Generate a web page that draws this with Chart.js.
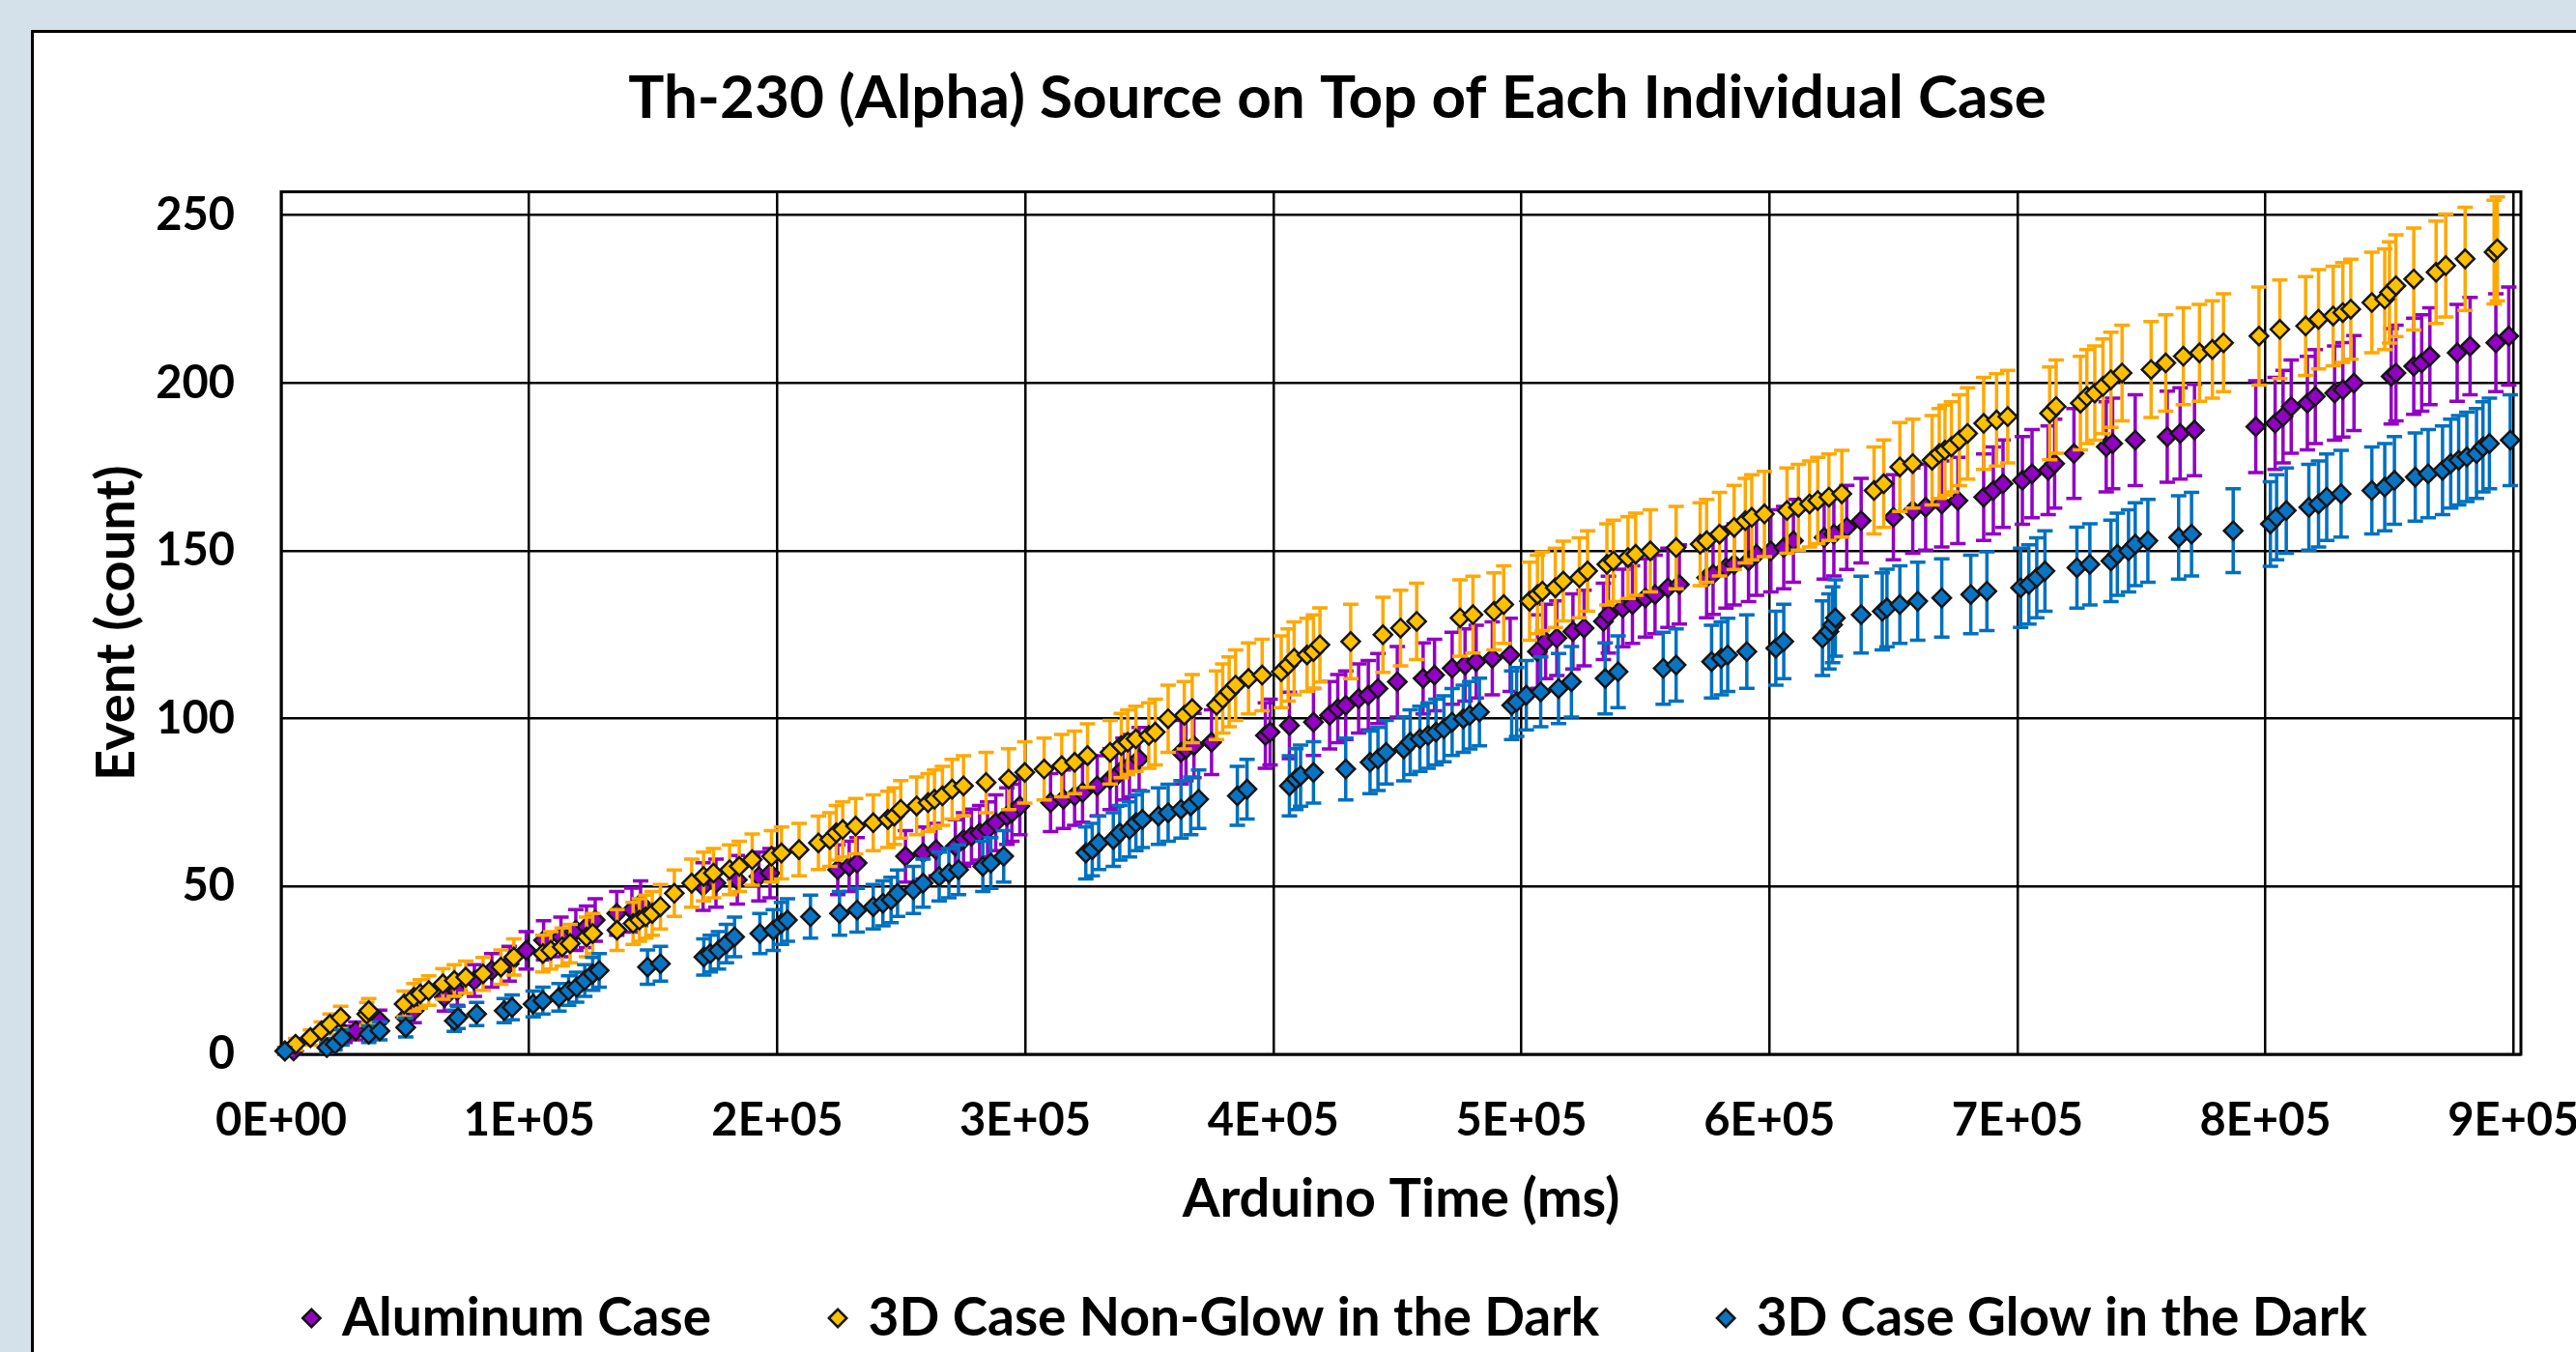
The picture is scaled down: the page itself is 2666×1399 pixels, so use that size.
<!DOCTYPE html>
<html>
<head>
<meta charset="utf-8">
<title>Th-230 (Alpha) Source on Top of Each Individual Case</title>
<script src="https://cdn.jsdelivr.net/npm/chart.js@4.4.1/dist/chart.umd.min.js"></script>
<style>
  html, body { margin: 0; padding: 0; width: 2666px; height: 1399px; overflow: hidden; background: #d5e1ea; }
  #box { position: absolute; left: 32px; top: 31px; width: 2696px; height: 1400px; border: 3px solid #000; background: #fff; }
  canvas { display: block; }
</style>
</head>
<body>
<div id="box"><canvas id="chart" width="2696" height="1400"></canvas></div>
<script>
// [arduino time (ms), event count]
const aluminum = [
  [5000,1],[25700,6],[30100,7],[36200,9],[39700,10],[50100,11],[53600,13],[65800,17],[71000,19],[77900,22],
  [84900,25],[91900,27],[98800,31],[105800,34],[112800,35],[118800,37],[123100,38],[126600,40],[135300,42],[141400,43],
  [144900,45],[170100,50],[175300,51],[183900,52],[192600,53],[197100,54],[224400,55],[229000,56],[232200,57],[251700,59],
  [258800,60],[264000,61],[271800,62],[275100,64],[278300,65],[281600,66],[284800,67],[288100,69],[292600,71],[294600,72],
  [297800,74],[310200,75],[315400,76],[319900,77],[323100,78],[329000,80],[334200,82],[336800,83],[339400,85],[342000,86],
  [345900,88],[362800,90],[364800,91],[368000,92],[375100,93],[396800,95],[398700,96],[406500,98],[416200,99],[422700,101],
  [426000,103],[429200,104],[434400,106],[438300,107],[442200,109],[450000,111],[460400,112],[465000,113],[472100,115],[477300,116],
  [481800,117],[488300,118],[495500,119],[506500,120],[509800,123],[514300,124],[520800,126],[525300,127],[533100,129],[535100,131],
  [540900,133],[544800,134],[550000,136],[553900,137],[559100,139],[563700,140],[574700,142],[577300,143],[582500,145],[585800,146],
  [591600,147],[594800,149],[600600,150],[605800,151],[609700,153],[622100,154],[626000,155],[631200,157],[637000,159],[650000,160],
  [657800,162],[663000,163],[669500,164],[676000,165],[686400,166],[690300,168],[694200,170],[702000,171],[705900,173],[712400,174],
  [715000,176],[722800,179],[735800,181],[738400,182],[747500,183],[760400,184],[765600,185],[771400,186],[796100,187],[803900,188],
  [807100,190],[810400,193],[816900,194],[820100,196],[827900,197],[831200,198],[835700,200],[850700,202],[852600,203],[859800,205],
  [863000,206],[866300,208],[877300,209],[882500,211],[892900,212],[898100,214]
];

const nonGlow = [
  [1500,1],[5800,3],[11800,5],[16200,7],[19700,9],[24000,11],[34500,12],[35300,13],[49600,15],[53500,17],
  [56100,18],[59500,19],[65200,21],[69800,22],[74400,23],[81400,24],[88600,26],[93800,29],[105500,30],[108700,31],
  [113300,32],[116500,33],[123100,35],[125600,36],[135400,37],[141900,39],[144400,40],[147000,41],[149600,42],[152900,44],
  [158500,48],[165500,51],[170300,53],[174300,54],[180800,55],[184700,56],[189900,58],[197700,59],[201700,60],[208800,61],
  [216600,63],[221200,64],[223800,66],[226400,67],[231600,68],[238700,69],[244600,70],[247200,71],[249800,73],[256200,74],
  [260800,75],[263400,76],[266600,77],[270500,79],[275100,80],[284200,81],[293300,82],[299800,84],[307600,85],[314700,86],
  [319900,87],[325100,89],[334200,90],[338700,92],[341300,93],[344600,94],[349800,95],[352400,96],[357600,100],[364100,101],
  [367300,103],[377100,104],[379600,106],[382200,108],[384800,110],[390000,112],[395500,113],[403200,114],[406000,116],[408400,118],
  [413600,119],[416200,120],[418800,122],[431200,123],[444200,125],[451300,127],[457800,129],[475300,130],[480500,131],[489000,132],
  [492900,134],[503300,135],[506500,137],[508500,138],[513700,139],[516900,141],[523400,142],[526700,144],[534500,146],[537100,147],
  [543000,148],[546100,149],[552000,150],[562400,151],[572100,152],[574700,153],[579900,155],[585800,157],[590300,159],[592900,160],
  [598000,161],[607100,162],[611700,163],[616200,164],[619500,165],[624000,166],[629200,167],[642200,168],[646100,170],[652600,175],
  [657800,176],[665600,177],[668500,179],[670800,180],[673400,181],[676600,183],[679900,185],[686400,188],[691600,189],[696100,190],
  [713000,191],[715600,193],[725400,194],[728000,196],[731200,197],[734500,199],[737700,201],[742200,203],[753900,204],[759800,206],
  [766900,208],[773400,209],[778600,210],[783100,212],[797400,214],[805800,216],[816200,217],[821400,219],[827300,220],[831200,221],
  [834400,222],[842900,224],[848100,225],[850000,227],[852600,229],[859800,231],[868800,233],[872700,235],[880500,237],[892200,239],
  [893500,240]
];

const glow = [
  [1500,1],[18400,2],[21700,3],[24500,5],[35300,6],[39800,7],[50200,8],[69800,10],[71300,11],[78800,12],
  [89900,13],[93100,14],[101600,15],[105500,16],[112000,17],[115900,19],[119100,20],[122400,22],[125600,24],[128200,25],
  [147700,26],[152900,27],[170400,29],[173000,30],[176300,31],[179500,33],[182800,35],[193000,36],[198400,37],[201700,39],
  [204100,40],[213400,41],[225100,42],[232200,43],[238700,44],[242600,45],[245900,46],[248500,48],[254900,49],[258800,51],
  [265300,53],[269200,54],[273100,55],[282900,56],[286100,57],[291300,59],[324400,60],[327000,61],[329600,63],[335500,64],
  [338100,66],[342000,67],[344600,69],[347200,70],[353700,71],[357600,72],[362800,73],[366700,74],[369900,76],[385500,77],
  [389400,79],[406500,80],[409100,82],[411000,83],[416200,84],[429200,85],[439000,87],[442200,88],[445500,90],[452600,91],
  [455200,93],[459100,94],[462400,95],[465600,96],[468800,97],[472100,99],[476600,100],[479200,101],[483100,102],[496100,104],
  [498100,105],[502000,107],[507800,108],[515000,109],[520200,111],[533800,112],[539000,114],[557200,115],[562400,116],[576700,117],
  [580600,118],[583200,119],[590900,120],[602600,121],[605800,123],[621400,124],[624000,126],[625500,128],[626600,130],[637000,131],
  [645500,132],[647400,133],[652600,134],[659800,135],[669500,136],[681200,137],[687700,138],[701300,139],[704600,140],[707800,142],
  [711100,144],[724000,145],[729200,146],[737700,147],[740300,149],[744800,150],[747500,152],[752600,153],[765000,154],[770200,155],
  [787000,156],[802000,158],[804500,160],[808400,162],[817500,163],[821400,164],[824700,166],[830500,167],[842900,168],[848100,169],
  [852000,171],[860400,172],[865600,173],[871400,174],[874700,176],[877900,177],[881200,178],[885100,179],[887700,181],[890300,182],
  [898700,183]
];

const xTicks = [0, 100000, 200000, 300000, 400000, 500000, 600000, 700000, 800000, 900000];
const xTickLabels = ['0E+00', '1E+05', '2E+05', '3E+05', '4E+05', '5E+05', '6E+05', '7E+05', '8E+05', '9E+05'];
const yTicks = [0, 50, 100, 150, 200, 250];

function makeSeries(label, points, fill, barColor, order) {
  return {
    label: label,
    data: points.map(p => ({ x: p[0], y: p[1] })),
    order: order,
    errorColor: barColor,
    pointStyle: 'rectRot',
    pointRadius: 9.5,
    pointHoverRadius: 9.5,
    pointBackgroundColor: fill,
    pointBorderColor: '#161616',
    pointBorderWidth: 2.5,
    backgroundColor: fill,
    borderColor: '#161616',
    showLine: false,
    clip: false
  };
}

// vertical +/- sqrt(N) bars, drawn under each series' markers
const errorBars = {
  id: 'errorBars',
  beforeDatasetDraw(chart, args) {
    const ds = chart.data.datasets[args.index];
    const yScale = chart.scales.y;
    const ctx = chart.ctx;
    ctx.save();
    ctx.strokeStyle = ds.errorColor;
    ctx.lineWidth = 3.5;
    args.meta.data.forEach((pt, i) => {
      const v = ds.data[i].y;
      const top = yScale.getPixelForValue(v + Math.sqrt(v));
      const bot = yScale.getPixelForValue(v - Math.sqrt(v));
      ctx.beginPath();
      ctx.moveTo(pt.x, top);
      ctx.lineTo(pt.x, bot);
      ctx.moveTo(pt.x - 8, top);
      ctx.lineTo(pt.x + 8, top);
      ctx.moveTo(pt.x - 8, bot);
      ctx.lineTo(pt.x + 8, bot);
      ctx.stroke();
    });
    ctx.restore();
  }
};

// black box round the plot area
const plotFrame = {
  id: 'plotFrame',
  beforeDatasetsDraw(chart) {
    const { ctx, chartArea } = chart;
    ctx.save();
    ctx.strokeStyle = '#000';
    ctx.lineWidth = 3;
    ctx.strokeRect(chartArea.left, chartArea.top, chartArea.right - chartArea.left, chartArea.bottom - chartArea.top);
    ctx.restore();
  }
};

Chart.defaults.font.family = 'Lato, "Liberation Sans", sans-serif';
Chart.defaults.font.weight = 'bold';
Chart.defaults.color = '#000';

new Chart(document.getElementById('chart'), {
  type: 'scatter',
  data: {
    datasets: [
      makeSeries('Aluminum Case', aluminum, '#9200c4', '#9200c4', 3),
      makeSeries('3D Case Non-Glow in the Dark', nonGlow, '#ffc000', '#ffa800', 2),
      makeSeries('3D Case Glow in the Dark', glow, '#0a74c4', '#0070c0', 1)
    ]
  },
  options: {
    responsive: false,
    animation: false,
    events: [],
    layout: { padding: { left: 124, right: 122, top: 0, bottom: 32.5 } },
    plugins: {
      title: {
        display: true,
        text: 'Th-230 (Alpha) Source on Top of Each Individual Case',
        font: { size: 62, weight: 'bold' },
        padding: { top: 31, bottom: 59 }
      },
      legend: {
        position: 'bottom',
        labels: {
          usePointStyle: true,
          boxWidth: 8,
          boxHeight: 13,
          padding: 127,
          font: { size: 55, weight: 'bold' },
          sort: (a, b) => a.datasetIndex - b.datasetIndex
        }
      },
      tooltip: { enabled: false }
    },
    scales: {
      x: {
        type: 'linear',
        min: 0,
        max: 903000,
        afterFit: (scale) => { scale.height = 118.5; },
        afterBuildTicks: (scale) => { scale.ticks = xTicks.map(v => ({ value: v })); },
        border: { display: false },
        grid: { color: '#000', lineWidth: 2.5, drawTicks: false },
        ticks: {
          autoSkip: false,
          maxRotation: 0,
          padding: 41,
          font: { size: 47, weight: 'bold' },
          callback: (value, index) => xTickLabels[index]
        },
        title: {
          display: true,
          text: 'Arduino Time (ms)',
          font: { size: 56, weight: 'bold' },
          padding: { top: 0, bottom: -65 }
        }
      },
      y: {
        min: 0,
        max: 257,
        afterFit: (scale) => { scale.width = 132; },
        afterBuildTicks: (scale) => { scale.ticks = yTicks.map(v => ({ value: v })); },
        border: { display: false },
        grid: { color: '#000', lineWidth: 2.5, drawTicks: false },
        ticks: {
          padding: 48,
          font: { size: 47, weight: 'bold' }
        },
        title: {
          display: true,
          text: 'Event (count)',
          font: { size: 56, weight: 'bold' },
          padding: { top: -72, bottom: 0 }
        }
      }
    }
  },
  plugins: [plotFrame, errorBars]
});
</script>
</body>
</html>
